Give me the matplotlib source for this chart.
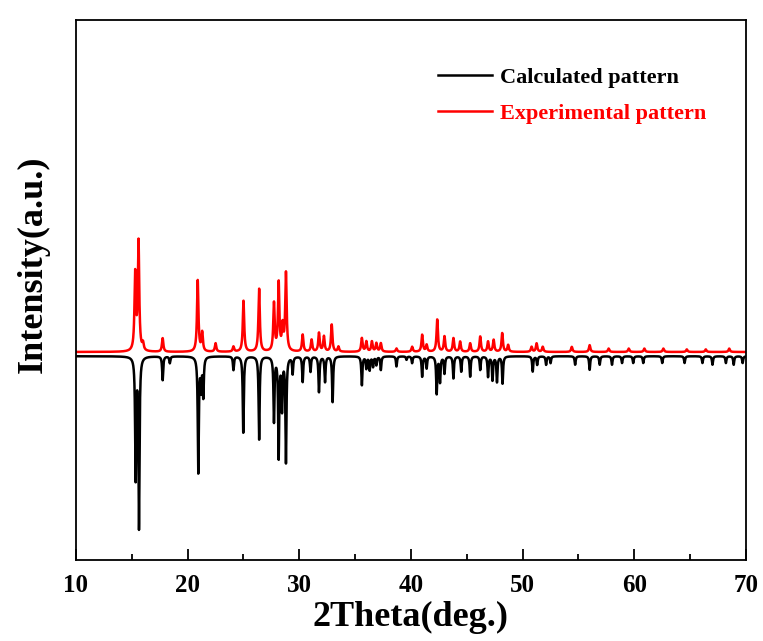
import numpy as np
import matplotlib
matplotlib.use("Agg")
import matplotlib.pyplot as plt

plt.rcParams['font.family'] = ['Liberation Serif', 'DejaVu Serif']
plt.rcParams['font.weight'] = 'bold'

# ---- peak lists (2theta, relative intensity) ----
calc_pos = [15.34, 15.64, 17.76, 18.4, 20.95, 21.2, 21.4, 24.1, 24.98, 26.4,
            27.73, 28.15, 28.45, 28.8, 29.4, 30.3, 31.0, 31.76, 32.3, 32.98,
            35.6, 36.0, 36.3, 36.6, 36.9, 37.3, 38.7, 39.6, 40.1, 41.0,
            41.4, 42.3, 42.6, 43.0, 43.8, 44.5, 45.3, 46.2, 46.9, 47.3,
            47.7, 48.2, 50.9, 51.3, 52.1, 52.5, 54.7, 56.0, 56.9, 58.0,
            58.9, 59.9, 60.8, 62.5, 64.5, 66.1, 67.0, 68.2, 68.9, 69.7]
calc_int = [71, 100, 14, 4, 68, 18, 23, 8, 45, 49,
            38, 59, 30, 62, 10, 15, 9, 21, 15, 27,
            17, 7, 8, 6, 5, 8, 6, 2, 4, 12,
            7, 22, 15, 10, 13, 9, 12, 8, 12, 14,
            15, 16, 9, 5, 5, 4, 5, 8, 5, 5,
            4, 4, 4, 4, 4, 4, 5, 4, 5, 4]

exp_pos = [15.3, 15.6, 16.0, 17.76, 20.9, 21.3, 22.5, 24.1, 25.0, 26.4,
           27.73, 28.15, 28.5, 28.8, 30.3, 31.1, 31.76, 32.2, 32.9, 33.5,
           35.6, 36.0, 36.5, 36.9, 37.3, 38.7, 40.1, 41.0, 41.4, 42.35,
           43.0, 43.8, 44.4, 45.3, 46.2, 46.9, 47.4, 48.17, 48.7, 50.8,
           51.25, 51.8, 54.4, 56.0, 57.7, 59.5, 60.9, 62.6, 64.7, 66.4, 68.5]
exp_int = [45, 64, 4, 8, 42, 11, 5, 3, 30, 37,
           28, 40, 14, 46, 10, 7, 11, 9, 16, 3,
           8, 6, 6, 5, 5, 2, 3, 10, 4, 19,
           9, 8, 6, 5, 9, 6, 7, 11, 4, 3,
           5, 3, 3, 4, 2, 2, 2, 2, 1.5, 1.5, 2]

exp_offset = 2.5

x = np.linspace(10, 70, 6000)


def profile(pos, inten, fwhm):
    y = np.zeros_like(x)
    g = fwhm / 2
    for p, h in zip(pos, inten):
        y += h * g**2 / ((x - p)**2 + g**2)
    return y


calc = -profile(calc_pos, calc_int, 0.11)
exp = exp_offset + profile(exp_pos, exp_int, 0.15)

fig = plt.figure(figsize=(7.63, 6.41), dpi=100)
ax = fig.add_axes([0.0996, 0.1264, 0.8781, 0.8424])

ax.plot(x, calc, color='black', lw=1.8, label='Calculated pattern')
ax.plot(x, exp, color='#ff0000', lw=1.8, label='Experimental pattern')

ax.set_xlim(10, 70)
ax.set_ylim(-120, 198)
ax.set_xticks(np.arange(10, 71, 10))
ax.set_xticks(np.arange(15, 70, 10), minor=True)
ax.set_yticks([])
ax.tick_params(axis='x', which='major', direction='in', length=8, width=1.3,
               labelsize=18, pad=10)
ax.tick_params(axis='x', which='minor', direction='in', length=4, width=1.3)
for s in ax.spines.values():
    s.set_linewidth(1.3)

ax.set_xlabel('2Theta(deg.)', fontsize=26, fontweight='bold', labelpad=3)
ax.set_ylabel('Intensity(a.u.)', fontsize=26, fontweight='bold')
ax.yaxis.set_label_coords(-0.039, 0.548)

leg = ax.legend(loc='upper left', bbox_to_anchor=(0.541, 0.913), frameon=False,
                fontsize=16, labelcolor='linecolor', handlelength=2.4,
                handletextpad=0.35, labelspacing=0.7, borderpad=0,
                borderaxespad=0)
for t in leg.get_texts():
    t.set_fontweight('bold')

fig.savefig('out.png', dpi=100)
